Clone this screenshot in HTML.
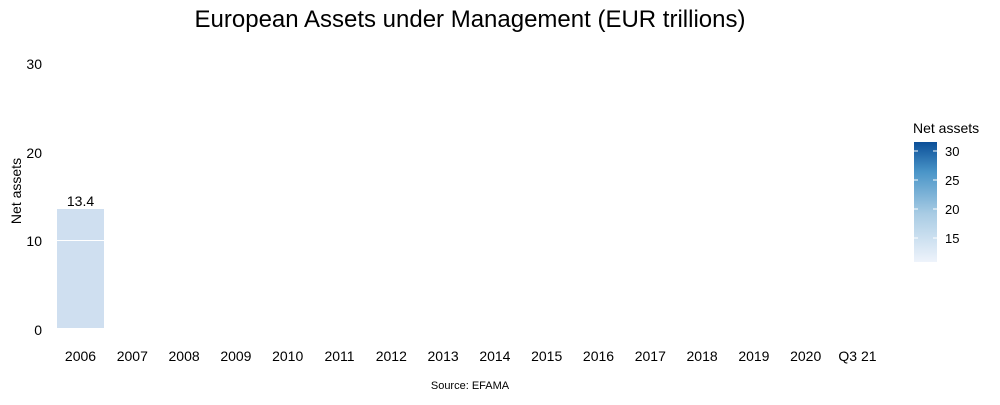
<!DOCTYPE html>
<html><head><style>
body{margin:0;background:#fff;}
svg text{font-family:"Liberation Sans",sans-serif;fill:#000;}
</style></head><body>
<svg width="1000" height="400" xmlns="http://www.w3.org/2000/svg">
<defs><linearGradient id="g" x1="0" y1="1" x2="0" y2="0">
<stop offset="0" stop-color="#eef3fb"/><stop offset="0.4" stop-color="#a9cce4"/><stop offset="0.75" stop-color="#4a95c8"/><stop offset="1" stop-color="#0b4f98"/></linearGradient></defs>
<text x="470" y="27" font-size="24" text-anchor="middle">European Assets under Management (EUR trillions)</text>
<rect x="57" y="209" width="47" height="119" fill="#cfdff0"/>
<line x1="57" y1="240.5" x2="104" y2="240.5" stroke="#fff" stroke-width="1"/>
<text x="80.5" y="206" font-size="14" text-anchor="middle">13.4</text>
<g font-size="14" text-anchor="end">
<text x="42" y="335">0</text><text x="42" y="246">10</text><text x="42" y="158">20</text><text x="42" y="69">30</text></g>
<text transform="translate(21,191) rotate(-90)" font-size="14" text-anchor="middle">Net assets</text>
<g font-size="14" text-anchor="middle">
<text x="80.5" y="361">2006</text><text x="132.3" y="361">2007</text><text x="184.1" y="361">2008</text><text x="235.9" y="361">2009</text><text x="287.7" y="361">2010</text><text x="339.5" y="361">2011</text><text x="391.3" y="361">2012</text><text x="443.1" y="361">2013</text><text x="494.9" y="361">2014</text><text x="546.7" y="361">2015</text><text x="598.5" y="361">2016</text><text x="650.3" y="361">2017</text><text x="702.1" y="361">2018</text><text x="753.9" y="361">2019</text><text x="805.7" y="361">2020</text><text x="857.5" y="361">Q3 21</text></g>
<text x="470" y="389" font-size="11" text-anchor="middle">Source: EFAMA</text>
<text x="913" y="133" font-size="14">Net assets</text>
<rect x="914" y="142" width="23" height="120" fill="url(#g)"/>
<g stroke="#fff" stroke-width="1">
<line x1="914" y1="151" x2="918" y2="151"/><line x1="933" y1="151" x2="937" y2="151"/>
<line x1="914" y1="180" x2="918" y2="180"/><line x1="933" y1="180" x2="937" y2="180"/>
<line x1="914" y1="209" x2="918" y2="209"/><line x1="933" y1="209" x2="937" y2="209"/>
<line x1="914" y1="238" x2="918" y2="238"/><line x1="933" y1="238" x2="937" y2="238"/></g>
<g font-size="13"><text x="945" y="156">30</text><text x="945" y="185">25</text><text x="945" y="214">20</text><text x="945" y="243">15</text></g>
</svg>
</body></html>
